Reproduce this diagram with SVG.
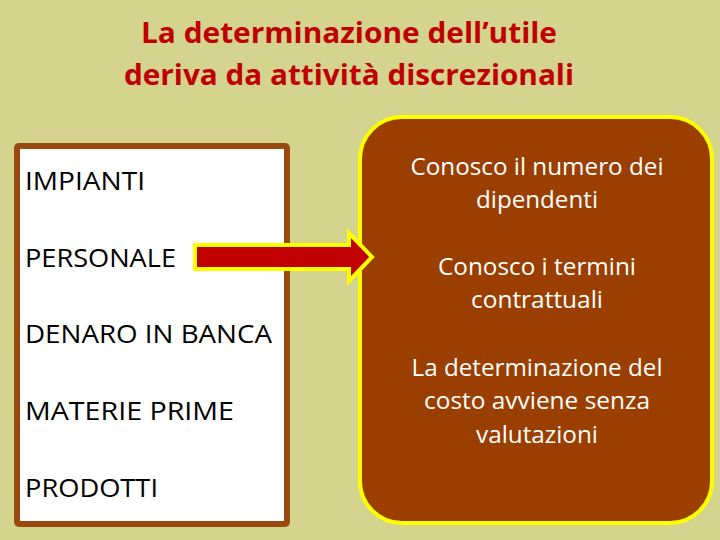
<svg xmlns="http://www.w3.org/2000/svg" width="720" height="540" viewBox="0 0 720 540">
<style>
.title{font-family:"Open Sans","Liberation Sans",sans-serif;font-weight:bold;font-size:29px;fill:#C00000;text-anchor:middle}
.item{font-family:"Open Sans","Liberation Sans",sans-serif;font-size:25px;fill:#000}
.note{font-family:"Open Sans","Liberation Sans",sans-serif;font-size:23px;fill:#fff;text-anchor:middle}
</style>
<rect x="0" y="0" width="720" height="540" fill="#D4D48E"/>
<g id="title">
<text class="title" x="349" y="43" textLength="416" lengthAdjust="spacingAndGlyphs">La determinazione dell’utile</text>
<text class="title" x="349" y="85" textLength="450" lengthAdjust="spacingAndGlyphs">deriva da attività discrezionali</text>
</g>
<g id="left-box">
<rect x="17" y="146" width="270" height="378" fill="#fff" stroke="#9B4A0F" stroke-width="6" rx="2"/>
<text class="item" x="25" y="190" textLength="120" lengthAdjust="spacingAndGlyphs">IMPIANTI</text>
<text class="item" x="25" y="267" textLength="151" lengthAdjust="spacingAndGlyphs">PERSONALE</text>
<text class="item" x="25" y="343" textLength="247" lengthAdjust="spacingAndGlyphs">DENARO IN BANCA</text>
<text class="item" x="25" y="420" textLength="209" lengthAdjust="spacingAndGlyphs">MATERIE PRIME</text>
<text class="item" x="25" y="497" textLength="133" lengthAdjust="spacingAndGlyphs">PRODOTTI</text>
</g>
<g id="right-box">
<rect x="360" y="117" width="352" height="406" rx="42" fill="#9A3F00" stroke="#FFFF00" stroke-width="4"/>
<text class="note" x="537" y="175" textLength="253" lengthAdjust="spacingAndGlyphs">Conosco il numero dei</text>
<text class="note" x="537" y="208" textLength="122" lengthAdjust="spacingAndGlyphs">dipendenti</text>
<text class="note" x="537" y="275" textLength="198" lengthAdjust="spacingAndGlyphs">Conosco i termini</text>
<text class="note" x="537" y="308" textLength="132" lengthAdjust="spacingAndGlyphs">contrattuali</text>
<text class="note" x="537" y="376" textLength="251" lengthAdjust="spacingAndGlyphs">La determinazione del</text>
<text class="note" x="537" y="409" textLength="226" lengthAdjust="spacingAndGlyphs">costo avviene senza</text>
<text class="note" x="537" y="443" textLength="122" lengthAdjust="spacingAndGlyphs">valutazioni</text>
</g>
<g id="connectors">
<path d="M195 245 L349 245 L349 233 L372 257 L349 281 L349 269 L195 269 Z" fill="#C00000" stroke="#FFFF00" stroke-width="4" stroke-linejoin="miter"/>
</g>
</svg>
